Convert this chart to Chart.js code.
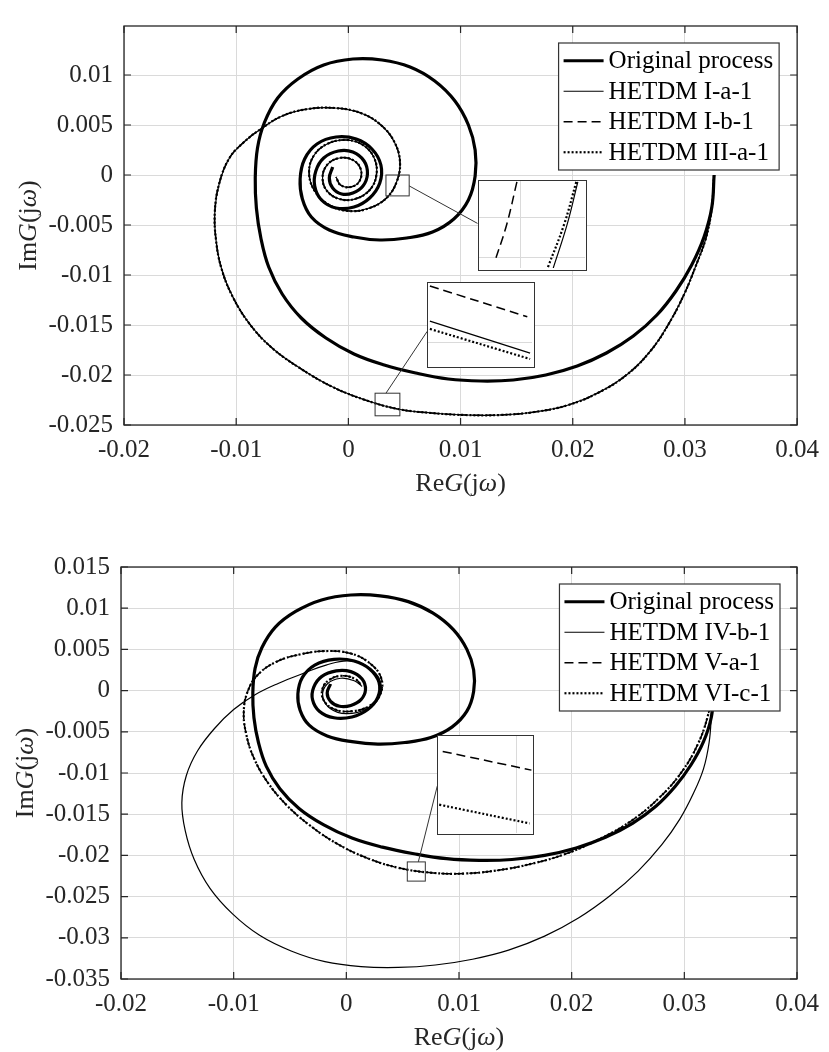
<!DOCTYPE html>
<html>
<head>
<meta charset="utf-8">
<script src="https://cdn.jsdelivr.net/npm/chart.js@4.4.1/dist/chart.umd.min.js"></script>
<style>
  body { margin: 0; background: #fff; }
  .wrap { position: absolute; left: 0; width: 829px; }
  #topWrap { top: 0; height: 505px; }
  #botWrap { top: 520px; height: 532px; }
  .inset { position: absolute; box-sizing: border-box; border: 1.5px solid #333; background: #fff; }
  .inset canvas { display: block; }
</style>
</head>
<body>
<div id="topWrap" class="wrap"><canvas id="topChart" width="829" height="505"></canvas></div>
<div id="botWrap" class="wrap"><canvas id="botChart" width="829" height="532"></canvas></div>
<script>
// tick labels
var xTicks = [-0.02, -0.01, 0, 0.01, 0.02, 0.03, 0.04];
var topYTicks = [-0.025, -0.02, -0.015, -0.01, -0.005, 0, 0.005, 0.01];
var botYTicks = [-0.035, -0.03, -0.025, -0.02, -0.015, -0.01, -0.005, 0, 0.005, 0.01, 0.015];

// original process (same curve in both panels)
var origRe = [0.0326, 0.0324, 0.0317, 0.0306, 0.0292, 0.0275, 0.0254, 0.0230, 0.0204, 0.0176, 0.0147, 0.0118,
  0.0089, 0.0060, 0.0032, 0.0005, -0.0020, -0.0042, -0.0059, -0.0071, -0.0078, -0.0082, -0.0083, -0.0081,
  -0.0075, -0.0063, -0.0045, -0.0022, 0.0004, 0.0030, 0.0055, 0.0077, 0.0095, 0.0107, 0.0113, 0.0113,
  0.0107, 0.0094, 0.0075, 0.0052, 0.0028, 0.0005, -0.0017, -0.0033, -0.0041, -0.0043, -0.0039, -0.0028,
  -0.0011, 0.0007, 0.0021, 0.0029, 0.0028, 0.0019, 0.0005, -0.0011, -0.0024, -0.0030, -0.0029, -0.0022,
  -0.0009, 0.0004, 0.0014, 0.0017, 0.0013, 0.0004, -0.0006, -0.0014, -0.0017, -0.0014];
var origIm = [0.0000, -0.0032, -0.0062, -0.0090, -0.0116, -0.0140, -0.0161, -0.0178, -0.0191, -0.0200, -0.0205, -0.0206,
  -0.0204, -0.0198, -0.0190, -0.0179, -0.0163, -0.0143, -0.0119, -0.0092, -0.0063, -0.0033, -0.0003, 0.0027,
  0.0052, 0.0077, 0.0096, 0.0110, 0.0116, 0.0115, 0.0108, 0.0094, 0.0074, 0.0050, 0.0025, -0.0001,
  -0.0025, -0.0044, -0.0057, -0.0063, -0.0065, -0.0062, -0.0055, -0.0042, -0.0024, -0.0004, 0.0016, 0.0031,
  0.0038, 0.0036, 0.0026, 0.0010, -0.0008, -0.0023, -0.0032, -0.0033, -0.0025, -0.0011, 0.0004, 0.0017,
  0.0024, 0.0023, 0.0014, 0.0001, -0.0011, -0.0018, -0.0019, -0.0013, -0.0003, 0.0008];

// top panel: HETDM I-a-1, I-b-1 and III-a-1 lie on one path at this scale
var topApproxRe = [0.0326, 0.0324, 0.0319, 0.0310, 0.0299, 0.0286, 0.0270, 0.0249, 0.0224, 0.0196, 0.0166, 0.0135,
  0.0104, 0.0074, 0.0044, 0.0015, -0.0014, -0.0042, -0.0068, -0.0088, -0.0103, -0.0113, -0.0118, -0.0119,
  -0.0115, -0.0106, -0.0093, -0.0078, -0.0059, -0.0036, -0.0012, 0.0011, 0.0029, 0.0041, 0.0046, 0.0043,
  0.0034, 0.0019, 0.0001, -0.0017, -0.0030, -0.0035, -0.0031, -0.0019, -0.0002, 0.0013, 0.0023, 0.0025,
  0.0019, 0.0006, -0.0008, -0.0019, -0.0023, -0.0019, -0.0008, 0.0004, 0.0011, 0.0010, 0.0002, -0.0007, -0.0011];
var topApproxIm = [0.0000, -0.0032, -0.0062, -0.0090, -0.0120, -0.0148, -0.0175, -0.0199, -0.0217, -0.0230, -0.0237, -0.0240,
  -0.0240, -0.0238, -0.0234, -0.0225, -0.0212, -0.0194, -0.0173, -0.0149, -0.0122, -0.0094, -0.0065, -0.0036,
  -0.0008, 0.0017, 0.0033, 0.0046, 0.0059, 0.0066, 0.0067, 0.0062, 0.0050, 0.0033, 0.0013, -0.0007,
  -0.0023, -0.0033, -0.0036, -0.0030, -0.0016, 0.0002, 0.0019, 0.0031, 0.0035, 0.0030, 0.0017, 0.0000,
  -0.0015, -0.0024, -0.0024, -0.0016, -0.0003, 0.0010, 0.0017, 0.0015, 0.0006, -0.0006, -0.0012, -0.0010, -0.0002];

// bottom panel: HETDM IV-b-1
var ivRe = [0.0325, 0.0324, 0.0322, 0.0317, 0.0308, 0.0296, 0.0280, 0.0259, 0.0234, 0.0206, 0.0176, 0.0144,
  0.0112, 0.0079, 0.0046, 0.0013, -0.0019, -0.0049, -0.0077, -0.0101, -0.0121, -0.0135, -0.0143, -0.0146,
  -0.0142, -0.0132, -0.0117, -0.0100, -0.0081, -0.0060, -0.0038, -0.0018, 0.0002, 0.0019, 0.0030, 0.0029,
  0.0017, 0.0000, -0.0014, -0.0021, -0.0017, -0.0005, 0.0007, 0.0014];
var ivIm = [0.0000, -0.0030, -0.0063, -0.0095, -0.0125, -0.0156, -0.0187, -0.0219, -0.0249, -0.0276, -0.0298, -0.0315,
  -0.0326, -0.0333, -0.0336, -0.0335, -0.0329, -0.0316, -0.0297, -0.0271, -0.0240, -0.0205, -0.0170, -0.0136,
  -0.0103, -0.0073, -0.0046, -0.0023, -0.0005, 0.0009, 0.0021, 0.0031, 0.0036, 0.0029, 0.0012, -0.0009,
  -0.0023, -0.0028, -0.0022, -0.0007, 0.0008, 0.0015, 0.0012, 0.0005];

// bottom panel: HETDM V-a-1 and VI-c-1 overlap at this scale
var vRe = [0.0325, 0.0321, 0.0312, 0.0297, 0.0277, 0.0253, 0.0225, 0.0195, 0.0165, 0.0135, 0.0105, 0.0075,
  0.0046, 0.0018, -0.0008, -0.0032, -0.0053, -0.0070, -0.0082, -0.0089, -0.0091, -0.0087, -0.0078, -0.0062,
  -0.0041, -0.0018, 0.0004, 0.0021, 0.0031, 0.0030, 0.0020, 0.0005, -0.0010, -0.0020, -0.0021, -0.0014,
  -0.0003, 0.0008, 0.0013];
var vIm = [0.0000, -0.0030, -0.0065, -0.0100, -0.0131, -0.0158, -0.0180, -0.0198, -0.0210, -0.0218, -0.0222, -0.0221,
  -0.0215, -0.0203, -0.0186, -0.0164, -0.0139, -0.0111, -0.0082, -0.0052, -0.0024, 0.0001, 0.0020, 0.0035,
  0.0044, 0.0048, 0.0045, 0.0033, 0.0015, -0.0005, -0.0019, -0.0025, -0.0023, -0.0012, 0.0003, 0.0014,
  0.0018, 0.0014, 0.0007];

// magnified details (values inside the small squares)
var zoom1DashRe = [0.00409, 0.00389, 0.00365], zoom1DashIm = [-0.00002, -0.00105, -0.00196];
var zoom1DotRe = [0.00525, 0.00501, 0.00469], zoom1DotIm = [-0.00002, -0.00105, -0.00209];
var zoom1SolidRe = [0.00528, 0.00507, 0.00480], zoom1SolidIm = [-0.00002, -0.00105, -0.00209];
var zoom2DashRe = [0.00242, 0.00449], zoom2DashIm = [-0.02190, -0.02274];
var zoom2SolidRe = [0.00242, 0.00455], zoom2SolidIm = [-0.02286, -0.02373];
var zoom2DotRe = [0.00242, 0.00455], zoom2DotIm = [-0.02307, -0.02389];
var zoom3DashRe = [0.00549, 0.00700], zoom3DashIm = [-0.02116, -0.02161];
var zoom3DotRe = [0.00543, 0.00697], zoom3DotIm = [-0.02244, -0.02289];

var FONT = '"Liberation Serif", "Times New Roman", serif';
var GRID = '#dadada';
var AXIS = '#262626';
Chart.defaults.font.family = FONT;

var STYLE = {
  thick: { borderWidth: 3.2 },
  solid: { borderWidth: 1.2 },
  dashed: { borderWidth: 1.5, borderDash: [9, 5] },
  dotted: { borderWidth: 2.2, borderDash: [2, 2] }
};

function pts(re, im) {
  return re.map(function(x, i) { return { x: x, y: im[i] }; });
}

function series(label, re, im, style) {
  return Object.assign({
    label: label, data: pts(re, im), showLine: true, pointRadius: 0, pointHoverRadius: 0,
    borderColor: '#000', backgroundColor: '#000', fill: false, tension: 0.4
  }, STYLE[style]);
}

function fmt(v) { return String(Number(v.toFixed(4))); }

function drawRich(ctx, parts, size, x, y) {
  var w = 0;
  parts.forEach(function(p) { ctx.font = p[1] + ' ' + size + 'px ' + FONT; w += ctx.measureText(p[0]).width; });
  var cx = x - w / 2;
  parts.forEach(function(p) {
    ctx.font = p[1] + ' ' + size + 'px ' + FONT;
    ctx.fillText(p[0], cx, y);
    cx += ctx.measureText(p[0]).width;
  });
}

var framePlugin = {
  id: 'frame',
  afterDatasetsDraw: function(chart, args, opts) {
    var ctx = chart.ctx, a = chart.chartArea, sx = chart.scales.x, sy = chart.scales.y;
    ctx.save();
    ctx.strokeStyle = '#333';
    ctx.lineWidth = 1;
    (opts.insets || []).forEach(function(ins) {
      var x0 = sx.getPixelForValue(ins.src.x0), x1 = sx.getPixelForValue(ins.src.x1);
      var y0 = sy.getPixelForValue(ins.src.y0), y1 = sy.getPixelForValue(ins.src.y1);
      ctx.strokeRect(x0, y1, x1 - x0, y0 - y1);
      ctx.beginPath();
      ctx.moveTo(sx.getPixelForValue(ins.link[0][0]), sy.getPixelForValue(ins.link[0][1]));
      ctx.lineTo(sx.getPixelForValue(ins.link[1][0]), sy.getPixelForValue(ins.link[1][1]));
      ctx.stroke();
    });
    ctx.strokeStyle = AXIS;
    ctx.lineWidth = 1.2;
    ctx.beginPath();
    sx.ticks.forEach(function(t) {
      var px = sx.getPixelForValue(t.value);
      ctx.moveTo(px, a.bottom); ctx.lineTo(px, a.bottom - 7);
      ctx.moveTo(px, a.top); ctx.lineTo(px, a.top + 7);
    });
    sy.ticks.forEach(function(t) {
      var py = sy.getPixelForValue(t.value);
      ctx.moveTo(a.left, py); ctx.lineTo(a.left + 7, py);
      ctx.moveTo(a.right, py); ctx.lineTo(a.right - 7, py);
    });
    ctx.stroke();
    ctx.lineWidth = 1.3;
    ctx.strokeRect(a.left, a.top, a.right - a.left, a.bottom - a.top);
    ctx.restore();
  },
  afterDraw: function(chart, args, opts) {
    var ctx = chart.ctx, a = chart.chartArea;
    ctx.save();
    // legend
    var rowH = 30.5, size = 25;
    ctx.font = size + 'px ' + FONT;
    var dsets = chart.data.datasets.filter(function(d) { return d.label; });
    var tw = 0;
    dsets.forEach(function(d) { tw = Math.max(tw, ctx.measureText(d.label).width); });
    var bw = 50 + tw + 6, bh = dsets.length * rowH + 5;
    var bx = a.right - opts.legendRight - bw, by = a.top + opts.legendTop;
    ctx.fillStyle = '#fff';
    ctx.fillRect(bx, by, bw, bh);
    ctx.strokeStyle = '#333';
    ctx.lineWidth = 1.2;
    ctx.strokeRect(bx, by, bw, bh);
    dsets.forEach(function(d, i) {
      var cy = by + 2.5 + rowH * (i + 0.5);
      ctx.strokeStyle = '#000';
      ctx.lineWidth = d.borderWidth;
      ctx.setLineDash(d.borderDash || []);
      ctx.beginPath();
      ctx.moveTo(bx + 5, cy); ctx.lineTo(bx + 45, cy);
      ctx.stroke();
      ctx.setLineDash([]);
      ctx.fillStyle = '#000';
      ctx.font = size + 'px ' + FONT;
      ctx.textBaseline = 'middle';
      ctx.textAlign = 'left';
      ctx.fillText(d.label, bx + 50, cy + 1);
    });
    // axis titles
    ctx.fillStyle = AXIS;
    ctx.textBaseline = 'alphabetic';
    ctx.textAlign = 'left';
    drawRich(ctx, [['Re', 'normal'], ['G', 'italic'], ['(j', 'normal'], ['\u03c9', 'italic'], [')', 'normal']],
      26, (a.left + a.right) / 2, a.bottom + 66);
    ctx.translate(a.left - 88, (a.top + a.bottom) / 2);
    ctx.rotate(-Math.PI / 2);
    drawRich(ctx, [['Im', 'normal'], ['G', 'italic'], ['(j', 'normal'], ['\u03c9', 'italic'], [')', 'normal']],
      26, 0, 0);
    ctx.restore();
  }
};

function makeChart(id, datasets, cfg) {
  return new Chart(document.getElementById(id), {
    type: 'scatter',
    data: { datasets: datasets },
    options: {
      responsive: false, animation: false, devicePixelRatio: 1, events: [],
      layout: { padding: { left: 0, right: cfg.padRight, top: cfg.padTop, bottom: 0 } },
      plugins: {
        legend: { display: false }, tooltip: { enabled: false },
        frame: { insets: cfg.insets, legendRight: cfg.legendRight, legendTop: cfg.legendTop }
      },
      scales: {
        x: {
          type: 'linear', min: -0.02, max: 0.04,
          grid: { color: GRID, lineWidth: 1, drawTicks: false }, border: { display: false },
          ticks: { color: AXIS, font: { size: 25, family: FONT }, padding: 10, autoSkip: false, maxRotation: 0, callback: fmt },
          afterBuildTicks: function(s) { s.ticks = xTicks.map(function(v) { return { value: v }; }); },
          afterFit: function(s) { s.height = cfg.xHeight; }
        },
        y: {
          type: 'linear', min: cfg.yMin, max: cfg.yMax,
          grid: { color: GRID, lineWidth: 1, drawTicks: false }, border: { display: false },
          ticks: { color: AXIS, font: { size: 25, family: FONT }, padding: 11, autoSkip: false, callback: fmt },
          afterBuildTicks: function(s) { s.ticks = cfg.yTicks.map(function(v) { return { value: v }; }); },
          afterFit: function(s) { s.width = cfg.yWidth; }
        }
      }
    },
    plugins: [framePlugin]
  });
}

function makeInsets(chart, wrapId, insets) {
  var sx = chart.scales.x, sy = chart.scales.y, wrap = document.getElementById(wrapId);
  insets.forEach(function(ins) {
    var left = sx.getPixelForValue(ins.box.x0), right = sx.getPixelForValue(ins.box.x1);
    var top = sy.getPixelForValue(ins.box.y1), bottom = sy.getPixelForValue(ins.box.y0);
    var div = document.createElement('div');
    div.className = 'inset';
    div.style.left = left + 'px';
    div.style.top = top + 'px';
    div.style.width = (right - left) + 'px';
    div.style.height = (bottom - top) + 'px';
    var cv = document.createElement('canvas');
    cv.width = Math.round(right - left - 3);
    cv.height = Math.round(bottom - top - 3);
    div.appendChild(cv);
    wrap.appendChild(div);
    function axis(min, max, grid, horiz) {
      var o = {
        type: 'linear', min: min, max: max,
        ticks: { display: false }, border: { display: false },
        grid: { color: GRID, drawTicks: false, display: grid.length > 0 },
        afterFit: function(s) { if (horiz) { s.height = 0; } else { s.width = 0; } }
      };
      if (grid.length) { o.afterBuildTicks = function(s) { s.ticks = grid.map(function(v) { return { value: v }; }); }; }
      return o;
    }
    new Chart(cv, {
      type: 'scatter',
      data: { datasets: ins.lines.map(function(l) { return series('', l[0], l[1], l[2]); }) },
      options: {
        responsive: false, animation: false, devicePixelRatio: 1, events: [],
        layout: { padding: 0 },
        plugins: { legend: { display: false }, tooltip: { enabled: false } },
        scales: { x: axis(ins.src.x0, ins.src.x1, ins.gridX, true), y: axis(ins.src.y0, ins.src.y1, ins.gridY, false) }
      }
    });
  });
}

var topInsets = [
  { src: { x0: 0.00335, x1: 0.00542, y0: -0.00209, y1: 0 },
    box: { x0: 0.01151, x1: 0.02123, y0: -0.00957, y1: -0.00054 },
    link: [[0.00542, -0.00109], [0.01151, -0.00484]],
    gridX: [0.00417], gridY: [-0.00183, -0.00088],
    lines: [[zoom1DashRe, zoom1DashIm, 'dashed'], [zoom1DotRe, zoom1DotIm, 'dotted'], [zoom1SolidRe, zoom1SolidIm, 'solid']] },
  { src: { x0: 0.00238, x1: 0.00459, y0: -0.02408, y1: -0.02182 },
    box: { x0: 0.00703, x1: 0.01660, y0: -0.01934, y1: -0.01073 },
    link: [[0.00335, -0.02182], [0.00703, -0.01563]],
    gridX: [], gridY: [-0.02344],
    lines: [[zoom2DashRe, zoom2DashIm, 'dashed'], [zoom2SolidRe, zoom2SolidIm, 'solid'], [zoom2DotRe, zoom2DotIm, 'dotted']] }
];

var botInsets = [
  { src: { x0: 0.00541, x1: 0.00701, y0: -0.02312, y1: -0.02079 },
    box: { x0: 0.00807, x1: 0.01666, y0: -0.01752, y1: -0.00541 },
    link: [[0.00639, -0.02079], [0.00807, -0.01159]],
    gridX: [0.00675], gridY: [],
    lines: [[zoom3DashRe, zoom3DashIm, 'dashed'], [zoom3DotRe, zoom3DotIm, 'dotted']] }
];

var topChart = makeChart('topChart', [
  series('Original process', origRe, origIm, 'thick'),
  series('HETDM I-a-1', topApproxRe, topApproxIm, 'solid'),
  series('HETDM I-b-1', topApproxRe, topApproxIm, 'dashed'),
  series('HETDM III-a-1', topApproxRe, topApproxIm, 'dotted')
], { padRight: 26, padTop: 12, xHeight: 80, yWidth: 124, yMin: -0.025, yMax: 0.0149, yTicks: topYTicks,
     insets: topInsets, legendRight: 18, legendTop: 17 });

var botChart = makeChart('botChart', [
  series('Original process', origRe, origIm, 'thick'),
  series('HETDM IV-b-1', ivRe, ivIm, 'solid'),
  series('HETDM V-a-1', vRe, vIm, 'dashed'),
  series('HETDM VI-c-1', vRe, vIm, 'dotted')
], { padRight: 32, padTop: 47, xHeight: 73, yWidth: 121, yMin: -0.035, yMax: 0.015, yTicks: botYTicks,
     insets: botInsets, legendRight: 17, legendTop: 17 });

makeInsets(topChart, 'topWrap', topInsets);
makeInsets(botChart, 'botWrap', botInsets);
</script>
</body>
</html>
